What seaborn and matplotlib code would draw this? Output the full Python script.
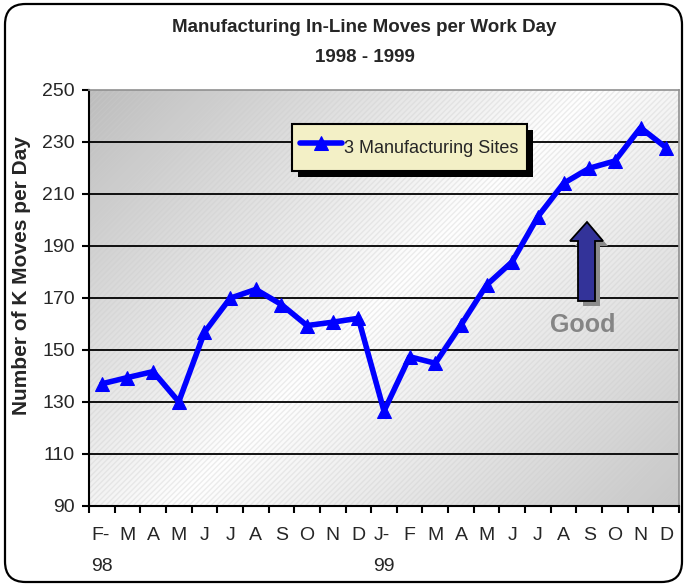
import numpy as np
import pandas as pd
import matplotlib
matplotlib.use("Agg")
import matplotlib.pyplot as plt
import matplotlib.patches as mpatches
import seaborn as sns

# ------------------------------------------
# DATA
# ------------------------------------------
months = ["F-\n98", "M", "A", "M", "J", "J", "A", "S", "O", "N", "D",
          "J-\n99", "F", "M", "A", "M", "J", "J", "A", "S", "O", "N", "D"]
moves = [137, 139.4, 141.7, 130.1, 156.8, 169.9, 173.3, 167.5, 159.4, 160.7, 162.2,
         126.5, 147.4, 144.9, 159.6, 175, 184, 201.3, 214.1, 219.9, 222.7, 235.5, 227.8]
y_ticks = [90, 110, 130, 150, 170, 190, 210, 230, 250]
series_name = "3 Manufacturing Sites"

df = pd.DataFrame({"pos": np.arange(len(months)), "moves": moves})

sns.set_style("white")
plt.rcParams["font.family"] = ["Liberation Sans", "DejaVu Sans"]

W, H = 684, 585
fig = plt.figure(figsize=(W / 100, H / 100), dpi=100)
ax = fig.add_axes([89 / W, 1 - 506 / H, 590 / W, 416 / H])

# outer rounded frame
frame = mpatches.FancyBboxPatch((5 / W, 3 / H), 677 / W, 578 / H,
                                boxstyle="round,pad=0,rounding_size=0.03",
                                mutation_aspect=W / H, transform=fig.transFigure,
                                facecolor="none", edgecolor="black", lw=1.6, zorder=0)
fig.patches.append(frame)

# plot-area gradient background (dark corners, light diagonal middle)
nx, ny = 300, 212
xs = np.linspace(0, 590, nx)
ys = np.linspace(0, 416, ny)
XX, YY = np.meshgrid(xs, ys)
t = (XX + YY) / (590 + 416)
gray = np.interp(t, [0, 0.5, 1], [0.74, 1.0, 0.78])
img = np.dstack([gray, gray, gray])
ax.imshow(img, extent=[0, 1, 0, 1], transform=ax.transAxes, aspect="auto",
          origin="upper", zorder=0, interpolation="bilinear")
hatch = mpatches.Rectangle((0, 0), 1, 1, transform=ax.transAxes, facecolor="none",
                           edgecolor=(0.8, 0.8, 0.8, 0.35), lw=0, hatch="//////", zorder=0.5)
ax.add_patch(hatch)

# gridlines
for yv in y_ticks[1:-1]:
    ax.axhline(yv, color="black", lw=1.3, zorder=1)

sns.lineplot(data=df, x="pos", y="moves", ax=ax, color="#0000ff", lw=4,
             marker="^", markersize=10.5, markeredgecolor="#0000ff",
             label=series_name, zorder=3)

ax.set_xlim(-0.5, len(months) - 0.5)
ax.set_ylim(90, 250)
ax.set_xlabel("")
ax.set_ylabel("")

# ticks: marks at category boundaries, labels at category centres
ax.set_xticks(np.arange(len(months) + 1) - 0.5)
ax.set_xticklabels([])
ax.set_xticks(np.arange(len(months)), minor=True)
ax.set_xticklabels(months, minor=True, fontsize=14, multialignment="left",
                   linespacing=2.1, va="top")
ax.tick_params(axis="x", which="major", direction="out", length=5, width=1.5,
               color="black", bottom=True)
ax.tick_params(axis="x", which="minor", length=0, pad=15)
ax.set_yticks(y_ticks)
ax.set_yticklabels([str(v) for v in y_ticks], fontsize=14)
ax.tick_params(axis="y", direction="out", length=5, width=1.5, color="black",
               left=True, pad=5)

for side in ["left", "bottom"]:
    ax.spines[side].set_color("black")
    ax.spines[side].set_linewidth(1.5)
for side in ["top", "right"]:
    ax.spines[side].set_color("#909090")
    ax.spines[side].set_linewidth(1.2)

leg = ax.legend(loc="upper left", bbox_to_anchor=(0.344, 0.918), fontsize=13,
                frameon=True, fancybox=False, facecolor="#f3f0c6", edgecolor="black",
                framealpha=1, handlelength=2.3, handletextpad=0.15, borderpad=0.45,
                handleheight=2.2, borderaxespad=0)
leg.get_frame().set_linewidth(1.5)
leg.set_zorder(6)

# heavy black drop shadow behind the legend box
fig.canvas.draw()
bb = leg.get_frame().get_window_extent()
ax.add_patch(mpatches.Rectangle((bb.x0 + 6, bb.y0 - 6), bb.width, bb.height,
                                transform=None, facecolor="black",
                                edgecolor="none", zorder=5.5))

# "Good" arrow with shadow
def to_fig(pts, dx=0, dy=0):
    return [((x + dx) / W, 1 - (y + dy) / H) for x, y in pts]

arrow_pts = [(587, 222), (603, 241), (595, 241), (595, 301),
             (578, 301), (578, 241), (570, 241)]
fig.patches.append(mpatches.Polygon(to_fig(arrow_pts, 5, 5), closed=True,
                                    transform=fig.transFigure, facecolor="#8c8c8c",
                                    edgecolor="none", zorder=4))
fig.patches.append(mpatches.Polygon(to_fig(arrow_pts), closed=True,
                                    transform=fig.transFigure, facecolor="#333399",
                                    edgecolor="black", lw=1.3, zorder=5))
fig.text(583 / W, 1 - 325 / H, "Good", fontsize=18, fontweight="bold",
         color="#858585", ha="center", va="center")

fig.text(364 / W, 1 - 27 / H, "Manufacturing In-Line Moves per Work Day",
         fontsize=13.5, fontweight="bold", ha="center", va="center")
fig.text(365 / W, 1 - 57 / H, "1998 - 1999", fontsize=13.5, fontweight="bold",
         ha="center", va="center")
fig.text(22 / W, 1 - 276 / H, "Number of K Moves per Day", fontsize=15,
         fontweight="bold", rotation=90, ha="center", va="center")

fig.savefig("out.png", dpi=100)
